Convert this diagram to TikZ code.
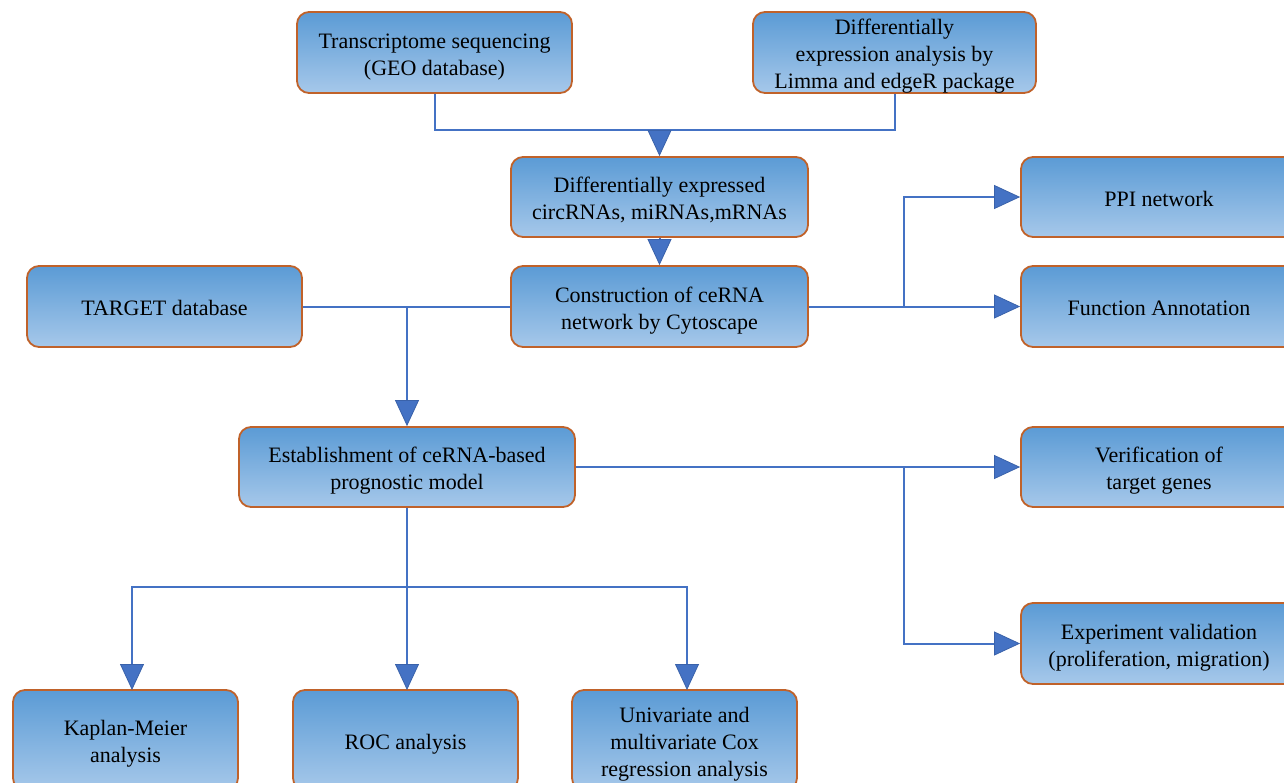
\documentclass[tikz,border=0pt]{standalone}
\usepackage{fontspec}
\setmainfont{Liberation Serif}
\newfontfamily\tmsfont{Liberation Serif}
\usetikzlibrary{arrows.meta}
\definecolor{boxtop}{HTML}{5B9BD5}
\definecolor{boxmid}{HTML}{62A0D8}
\definecolor{boxbot}{HTML}{A6C8EA}
\definecolor{boxborder}{HTML}{C0622A}
\definecolor{linecol}{HTML}{4472C4}
\definecolor{tipedge}{HTML}{3A62AA}
\newcommand{\bxt}[1]{\raisebox{-4pt}[\height][\depth]{\begin{tabular}{@{}c@{}}#1\end{tabular}}}
\tikzset{
  flowbox/.style={draw=boxborder, line width=1.8pt, rounded corners=12pt,
    top color=boxtop, middle color=boxmid, bottom color=boxbot,
    font=\tmsfont\fontsize{22}{27}\selectfont, inner sep=0pt, text=black},
  conn/.style={draw=linecol, line width=2pt},
  arr/.style={conn, -{Triangle[width=24pt,length=26pt,fill=linecol,color=tipedge,line width=0.8pt]}}
}
\begin{document}
\begin{tikzpicture}[x=1pt,y=-1pt]
\useasboundingbox (0,0) rectangle (1284,782);
\clip (0,0) rectangle (1284,782);
% boxes
\node[flowbox, minimum width=275pt, minimum height=81pt] (ts) at (434.5,52.5) {\bxt{Transcriptome sequencing\\(GEO database)}};
\node[flowbox, minimum width=283pt, minimum height=81pt] (de) at (894.5,52.5) {\bxt{Differentially\\expression analysis by\\Limma and edgeR package}};
\node[flowbox, minimum width=297pt, minimum height=80pt] (dx) at (659.5,197) {\bxt{Differentially expressed\\circRNAs, miRNAs,mRNAs}};
\node[flowbox, minimum width=297pt, minimum height=81pt] (cn) at (659.5,306.5) {\bxt{Construction of ceRNA\\network by Cytoscape}};
\node[flowbox, minimum width=275pt, minimum height=81pt] (tg) at (164.5,306.5) {\bxt{TARGET database}};
\node[flowbox, minimum width=276pt, minimum height=80pt] (ppi) at (1159,197) {\bxt{PPI network}};
\node[flowbox, minimum width=276pt, minimum height=81pt] (fa) at (1159,306.5) {\bxt{Function Annotation}};
\node[flowbox, minimum width=336pt, minimum height=80pt] (es) at (407,467) {\bxt{Establishment of ceRNA-based\\prognostic model}};
\node[flowbox, minimum width=276pt, minimum height=80pt] (vf) at (1159,467) {\bxt{Verification of\\target genes}};
\node[flowbox, minimum width=276pt, minimum height=81pt] (ex) at (1159,643.5) {\bxt{Experiment validation\\(proliferation, migration)}};
\node[flowbox, minimum width=225pt, minimum height=100pt] (km) at (125.5,740) {\bxt{Kaplan-Meier\\analysis}};
\node[flowbox, minimum width=225pt, minimum height=100pt] (roc) at (405.5,740) {\bxt{ROC analysis}};
\node[flowbox, minimum width=225pt, minimum height=100pt] (uv) at (684.5,740) {\bxt{Univariate and\\multivariate Cox\\regression analysis}};
% junctions
\coordinate (j1) at (659.5,130);
\coordinate (j2) at (407,306.5);
\coordinate (j3) at (904,306.5);
\coordinate (j4) at (904,467);
\coordinate (j5) at (407,587);
\coordinate (kmt) at (132,690);
\coordinate (roct) at (407,690);
\coordinate (uvt) at (687,690);
% connectors
\draw[conn] (ts.south) |- (j1) -| (de.south);
\draw[arr] (j1) -- (dx.north);
\draw[arr] (dx.south) -- (cn.north);
\draw[conn] (tg.east) -- (cn.west);
\draw[arr] (j2) -- (es.north);
\draw[arr] (cn.east) -- (fa.west);
\draw[arr] (j3) |- (ppi.west);
\draw[arr] (es.east) -- (vf.west);
\draw[arr] (j4) |- (ex.west);
\draw[arr] (es.south) -- (roct);
\draw[arr] (j5) -| (kmt);
\draw[arr] (j5) -| (uvt);
\end{tikzpicture}
\end{document}
